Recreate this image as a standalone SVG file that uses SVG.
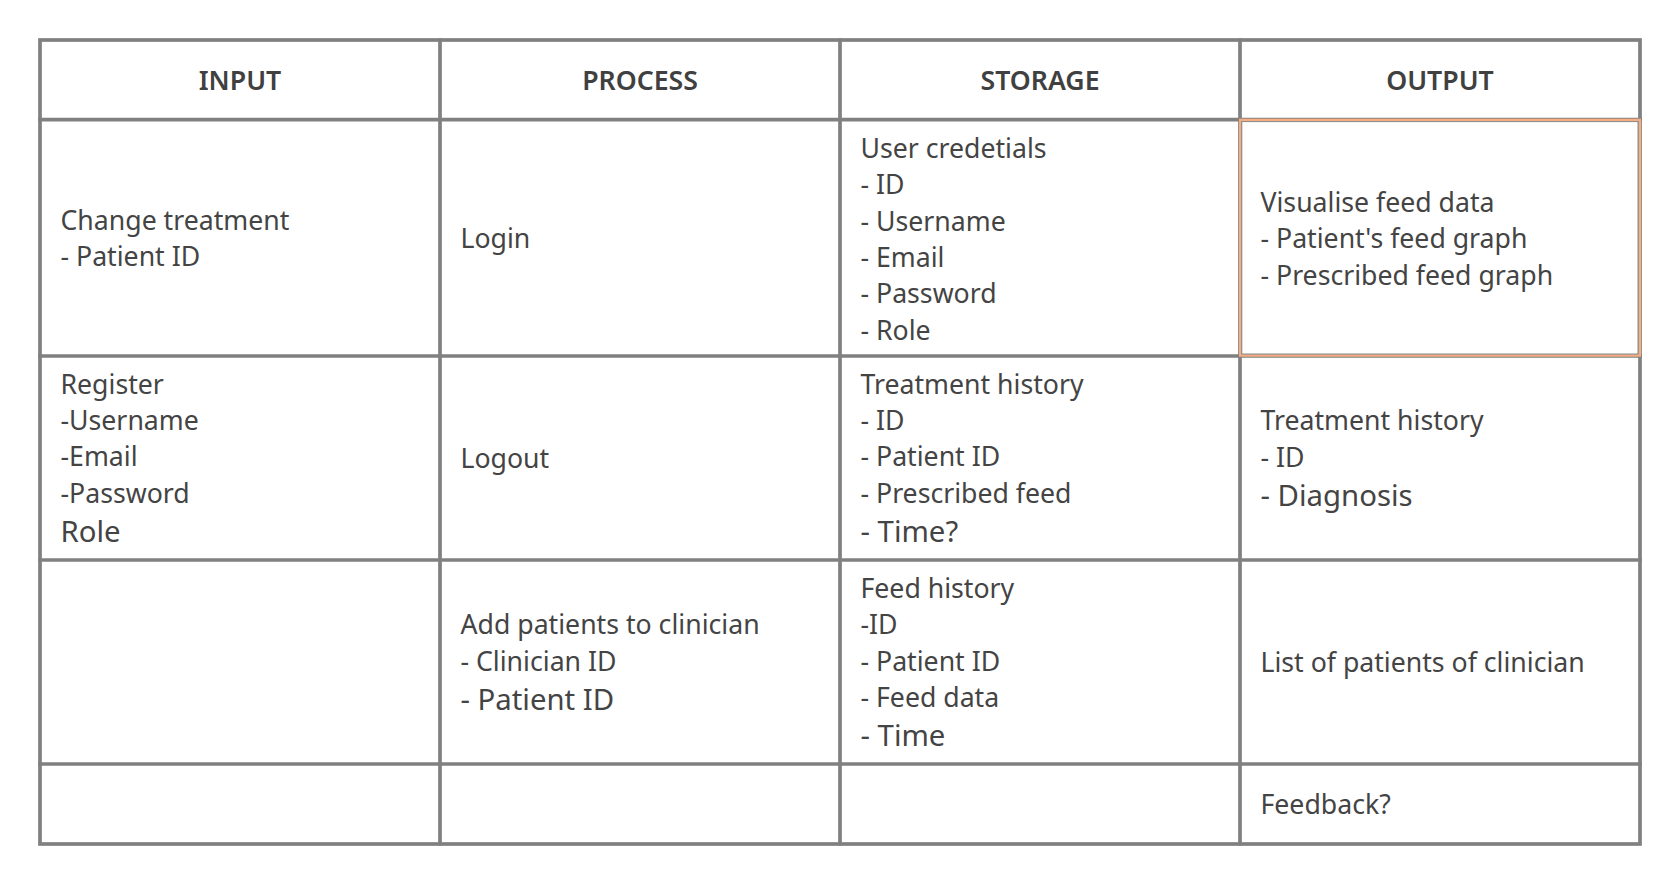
<svg xmlns="http://www.w3.org/2000/svg" width="1680" height="884" viewBox="0 0 1680 884">
<style>
  .grid { stroke: #808080; stroke-width: 3.7; fill: none; stroke-linecap: square; }
  .hd { font-family: "Noto Sans", "Open Sans", sans-serif; font-size: 26.67px; font-weight: 600; fill: #404040; text-anchor: middle; }
  .tx { font-family: "Noto Sans", "Open Sans", sans-serif; font-size: 26.67px; fill: #444444; }
  .lg { font-size: 29.33px; }
  .hl { fill: none; stroke: #F6AD80; stroke-width: 2.4; }
  .hl2 { fill: none; stroke: #8a8a8a; stroke-width: 1; }
</style>
<rect x="0" y="0" width="1680" height="884" fill="#ffffff"/>
<g id="connectors">
  <g class="grid">
    <rect x="40" y="40" width="1600" height="804"/>
    <line x1="40" y1="119.6" x2="1640" y2="119.6"/>
    <line x1="40" y1="356" x2="1640" y2="356"/>
    <line x1="40" y1="560" x2="1640" y2="560"/>
    <line x1="40" y1="764" x2="1640" y2="764"/>
    <line x1="440" y1="40" x2="440" y2="844"/>
    <line x1="840" y1="40" x2="840" y2="844"/>
    <line x1="1240" y1="40" x2="1240" y2="844"/>
  </g>
</g>
<g id="header-input"><text class="hd" x="240" y="89.5">INPUT</text></g>
<g id="header-process"><text class="hd" x="640" y="89.5">PROCESS</text></g>
<g id="header-storage"><text class="hd" x="1040" y="89.5">STORAGE</text></g>
<g id="header-output"><text class="hd" x="1440" y="89.5">OUTPUT</text></g>

<g id="input-change-treatment">
  <text class="tx"><tspan x="60.5" y="230">Change treatment</tspan><tspan x="60.5" y="266.3">- Patient ID</tspan></text>
</g>
<g id="process-login"><text class="tx" x="460.5" y="248.3">Login</text></g>
<g id="storage-user-credentials">
  <text class="tx"><tspan x="860.5" y="158">User credetials</tspan><tspan x="860.5" y="194.3">- ID</tspan><tspan x="860.5" y="230.6">- Username</tspan><tspan x="860.5" y="266.9">- Email</tspan><tspan x="860.5" y="303.2">- Password</tspan><tspan x="860.5" y="339.5">- Role</tspan></text>
</g>
<g id="output-visualise">
  <rect class="hl" x="1240.2" y="119.9" width="399.6" height="235.6"/>
  <rect class="hl2" x="1241.8" y="121.6" width="396.2" height="232.4"/>
  <text class="tx"><tspan x="1260.5" y="211.9">Visualise feed data</tspan><tspan x="1260.5" y="248.2">- Patient's feed graph</tspan><tspan x="1260.5" y="284.5">- Prescribed feed graph</tspan></text>
</g>

<g id="input-register">
  <text class="tx"><tspan x="60.5" y="393.8">Register</tspan><tspan x="60.5" y="430.1">-Username</tspan><tspan x="60.5" y="466.4">-Email</tspan><tspan x="60.5" y="502.7">-Password</tspan><tspan class="lg" x="60.5" y="541.9">Role</tspan></text>
</g>
<g id="process-logout"><text class="tx" x="460.5" y="468.3">Logout</text></g>
<g id="storage-treatment-history">
  <text class="tx"><tspan x="860.5" y="393.8">Treatment history</tspan><tspan x="860.5" y="430.1">- ID</tspan><tspan x="860.5" y="466.4">- Patient ID</tspan><tspan x="860.5" y="502.7">- Prescribed feed</tspan><tspan class="lg" x="860.5" y="541.9">- Time?</tspan></text>
</g>
<g id="output-treatment-history">
  <text class="tx"><tspan x="1260.5" y="430.2">Treatment history</tspan><tspan x="1260.5" y="466.5">- ID</tspan><tspan class="lg" x="1260.5" y="505.6">- Diagnosis</tspan></text>
</g>

<g id="process-add-patients">
  <text class="tx"><tspan x="460.5" y="634.2">Add patients to clinician</tspan><tspan x="460.5" y="670.5">- Clinician ID</tspan><tspan class="lg" x="460.5" y="709.6">- Patient ID</tspan></text>
</g>
<g id="storage-feed-history">
  <text class="tx"><tspan x="860.5" y="597.9">Feed history</tspan><tspan x="860.5" y="634.2">-ID</tspan><tspan x="860.5" y="670.5">- Patient ID</tspan><tspan x="860.5" y="706.8">- Feed data</tspan><tspan class="lg" x="860.5" y="746">- Time</tspan></text>
</g>
<g id="output-patient-list"><text class="tx" x="1260.5" y="672.3">List of patients of clinician</text></g>

<g id="output-feedback"><text class="tx" x="1260.5" y="814.3">Feedback?</text></g>
</svg>
